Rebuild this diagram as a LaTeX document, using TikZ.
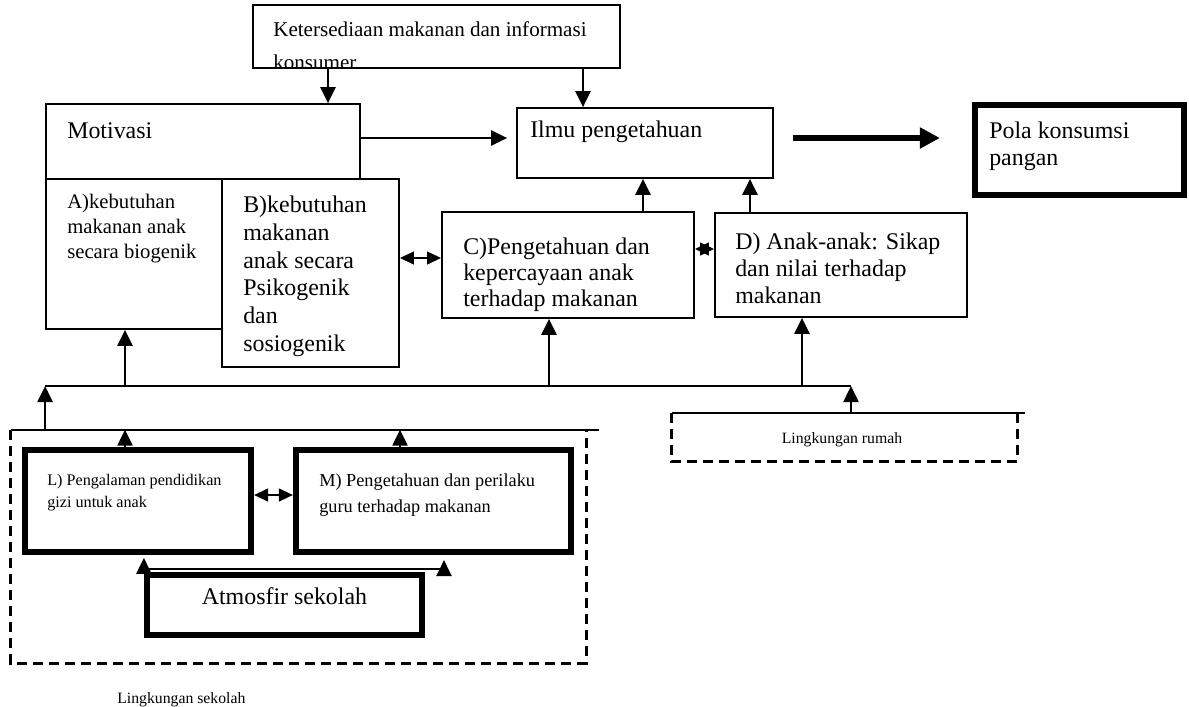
\documentclass[tikz,border=0pt]{standalone}
\usepackage{fontspec}
\setmainfont{Liberation Serif}
\usetikzlibrary{arrows.meta,fit,calc}
\newcommand{\fs}[2]{\fontsize{#1}{#2}\selectfont}

\begin{document}
\begin{tikzpicture}[x=0.025cm, y=-0.025cm,
    box/.style={draw, line width=1.3pt, inner sep=0pt},
    heavybox/.style={draw, line width=4.4pt, inner sep=0pt},
    zone/.style={inner sep=0pt},
    boxtext/.style={anchor=north west, inner sep=0pt, align=left},
    wire/.style={line width=1.3pt},
    arr/.style={line width=1.3pt, -{Triangle[length=0.4cm,width=0.38cm]}},
    dblarr/.style={line width=1.3pt, {Triangle[length=0.35cm,width=0.32cm]}-{Triangle[length=0.35cm,width=0.32cm]}},
    bigarr/.style={line width=3.6pt, -{Triangle[length=0.5cm,width=0.5cm]}},
    envline/.style={line width=1.8pt, dash pattern=on 0.25cm off 0.15cm}]
  \useasboundingbox (0,0) rectangle (1189,706);

  % Top: availability of food
  \node[box, fit={(253,5) (620,68)}] (konsum) {};
  \begin{scope}
    \clip (konsum.north west) rectangle (konsum.south east);
    \node[boxtext, font=\fs{15}{24}] (konsumt) at (273,21)
      {Ketersediaan makanan dan informasi\\konsumer};
  \end{scope}

  % Motivasi with A and B
  \node[box, fit={(46,104) (360,179)}] (motiv) {};
  \node[box, fit={(46,179) (222,329)}] (biog) {};
  \node[box, fit={(222,179) (399,367)}] (psiko) {};
  \node[boxtext, font=\fs{17}{20}] (motivt) at (67,122) {Motivasi};
  \node[boxtext, font=\fs{14.7}{17.7}] (biogt) at (67,194)
    {A)kebutuhan\\makanan anak\\secara biogenik};
  \node[boxtext, font=\fs{17}{19.7}] (psikot) at (243,196)
    {B)kebutuhan\\makanan\\anak secara\\Psikogenik\\dan\\sosiogenik};

  % Knowledge and outcome
  \node[box, fit={(517,108) (773,178)}] (ilmu) {};
  \node[boxtext, font=\fs{17}{20}] (ilmut) at (530,121) {Ilmu pengetahuan};
  \node[heavybox, fit={(975,105) (1184,195)}] (pola) {};
  \node[boxtext, font=\fs{17}{19.1}] (polat) at (989,122)
    {Pola konsumsi\\pangan};

  % C and D
  \node[box, fit={(442,212) (694,318)}] (kanak) {};
  \node[box, fit={(715,213) (967,317)}] (sikap) {};
  \node[boxtext, font=\fs{17}{18.2}] (kanakt) at (463,238)
    {C)Pengetahuan dan\\kepercayaan anak\\terhadap makanan};
  \node[boxtext, font=\fs{17}{19.1}] (sikapt) at (735,233)
    {D) Anak-anak: Sikap\\dan nilai terhadap\\makanan};

  % School environment
  \node[zone, fit={(11,430) (586,663)}] (sekolah) {};
  \node[heavybox, fit={(25,450) (251,552)}] (gizi) {};
  \node[heavybox, fit={(296,450) (571,552)}] (guru) {};
  \node[heavybox, fit={(147,575) (422,635)}, font=\fs{17}{20}] (atmos)
    {Atmosfir sekolah};
  \node[boxtext, font=\fs{11.5}{15.6}] (gizit) at (47,474)
    {L) Pengalaman pendidikan\\gizi untuk anak};
  \node[boxtext, font=\fs{13}{18.4}] (gurut) at (319,474)
    {M) Pengetahuan dan perilaku\\guru terhadap makanan};
  \draw[envline] (sekolah.north west) -- (sekolah.south west)
    -- (sekolah.south east) -- (sekolah.north east);
  \draw[wire] (sekolah.north west) -- ($(sekolah.north east)+(13,0)$);
  \node[anchor=base west, inner sep=0pt, font=\fs{11.2}{13}] (sekolaht)
    at (117,703) {Lingkungan sekolah};

  % Home environment
  \node[zone, fit={(672,413) (1017,461)}] (rumah) {};
  \draw[envline] (rumah.north west) -- (rumah.south west)
    -- (rumah.south east) -- (rumah.north east);
  \draw[wire] (rumah.north west) -- ($(rumah.north east)+(8,0)$);
  \node[anchor=base, inner sep=0pt, font=\fs{11.2}{13}] (rumaht)
    at (842,443) {Lingkungan rumah};

  % Connectors
  \coordinate (k1) at (328,0);
  \coordinate (k2) at (583,0);
  \coordinate (m1) at (0,138);
  \coordinate (c1) at (643,0);
  \coordinate (d1) at (750,0);
  \coordinate (bc) at (0,258);
  \coordinate (cd) at (0,249);
  \coordinate (bus) at (0,386);
  \coordinate (a1) at (125,0);
  \coordinate (c2) at (549,0);
  \coordinate (d2) at (802,0);
  \coordinate (h1) at (851,0);
  \coordinate (g1) at (400,0);
  \coordinate (lm) at (0,495);
  \coordinate (at1) at (0,569);
  \coordinate (g2) at (444,0);

  \draw[arr] (k1 |- konsum.south) -- (k1 |- motiv.north);
  \draw[arr] (k2 |- konsum.south) -- (k2 |- ilmu.north);
  \draw[arr] (motiv.east |- m1) -- ($(ilmu.west |- m1)+(-9,0)$);
  \draw[bigarr] ($(ilmu.east |- m1)+(19,0)$) -- ($(pola.west |- m1)+(-32,0)$);
  \draw[arr] (c1 |- kanak.north) -- (c1 |- ilmu.south);
  \draw[arr] (d1 |- sikap.north) -- (d1 |- ilmu.south);
  \draw[dblarr] (psiko.east |- bc) -- (kanak.west |- bc);
  \draw[dblarr] (kanak.east |- cd) -- (sikap.west |- cd);

  % Bus line up to A, C, D
  \draw[wire] (biog.south west |- bus) -- (h1 |- bus);
  \draw[arr] (a1 |- bus) -- (a1 |- biog.south);
  \draw[arr] (c2 |- bus) -- (c2 |- kanak.south);
  \draw[arr] (d2 |- bus) -- (d2 |- sikap.south);
  \draw[arr] (biog.south west |- sekolah.north) -- (biog.south west |- bus);
  \draw[arr] (h1 |- rumah.north) -- (h1 |- bus);

  % Inside school
  \draw[arr] (a1 |- gizi.north) -- (a1 |- sekolah.north);
  \draw[arr] (g1 |- guru.north) -- (g1 |- sekolah.north);
  \draw[dblarr] (gizi.east |- lm) -- (guru.west |- lm);
  \draw[arr, shorten >=2pt] (atmos.north west) -- (atmos.north west |- gizi.south);
  \draw[wire] (atmos.north west |- at1) -- (g2 |- at1);
  \draw[arr] (g2 |- at1) -- ($(g2 |- guru.south)+(0,5)$);
\end{tikzpicture}
\end{document}
